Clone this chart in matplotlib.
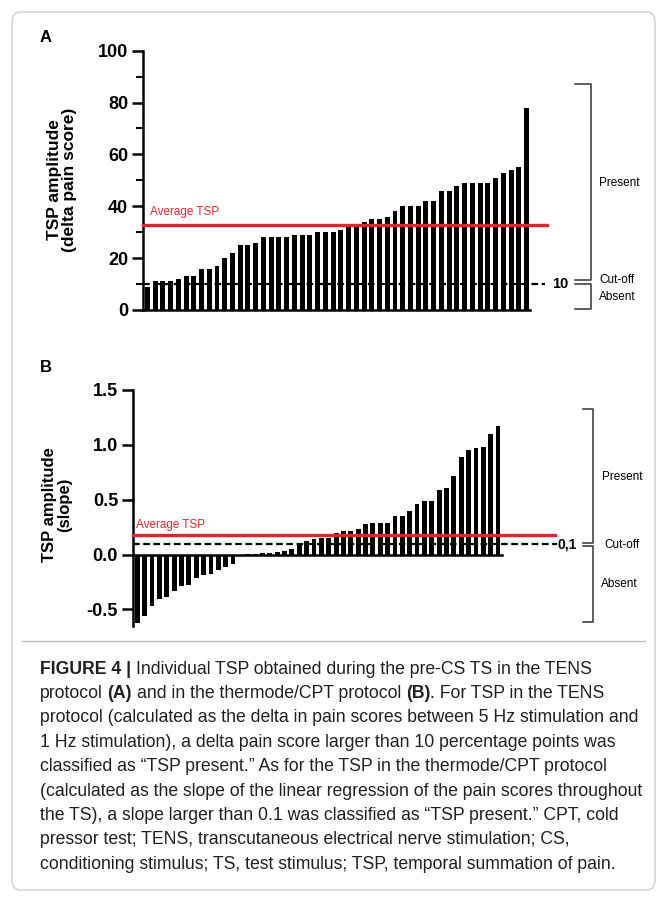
import numpy as np
import matplotlib
matplotlib.use('Agg')
import matplotlib.pyplot as plt
from matplotlib.transforms import blended_transform_factory
from matplotlib.patches import FancyBboxPatch
from matplotlib.lines import Line2D

plt.rcParams['font.family'] = ['Liberation Sans', 'DejaVu Sans']

# panel A: TENS protocol, delta pain score per participant (sorted)
tsp_a = [9, 11, 11, 11, 12, 13, 13, 16, 16, 17,
         20, 22, 25, 25, 26, 28, 28, 28, 28, 29,
         29, 29, 30, 30, 30, 31, 32, 32, 34, 35,
         35, 36, 38, 40, 40, 40, 42, 42, 46, 46,
         48, 49, 49, 49, 49, 51, 53, 54, 55, 78]
cutoff_a = 10
yticks_a = [0, 20, 40, 60, 80, 100]

# panel B: thermode/CPT protocol, slope per participant (sorted)
tsp_b = [-0.62, -0.56, -0.47, -0.41, -0.39, -0.33, -0.29, -0.28, -0.21, -0.19,
         -0.175, -0.14, -0.11, -0.09, 0.0, 0.003, 0.005, 0.01, 0.015, 0.02,
         0.03, 0.05, 0.09, 0.12, 0.14, 0.15, 0.15, 0.20, 0.21, 0.21,
         0.23, 0.28, 0.285, 0.29, 0.29, 0.35, 0.35, 0.40, 0.46, 0.49,
         0.49, 0.59, 0.61, 0.72, 0.89, 0.95, 0.97, 0.98, 1.10, 1.17]
cutoff_b = 0.1
yticks_b = [-0.5, 0.0, 0.5, 1.0, 1.5]

W, H = 667, 901
fig = plt.figure(figsize=(W / 100, H / 100), dpi=100)
RED = '#e3242b'


def fx(px):
    return px / W


def fy(py):
    return 1 - py / H


def style_axis(ax):
    for s in ['top', 'right']:
        ax.spines[s].set_visible(False)
    ax.spines['left'].set_linewidth(1.8)
    ax.spines['bottom'].set_linewidth(1.8)
    ax.tick_params(axis='y', width=1.8, length=8, pad=3, labelsize=13)
    ax.tick_params(axis='y', which='minor', width=1.5, length=5)
    ax.tick_params(axis='x', length=0, labelbottom=False)
    for lab in ax.get_yticklabels():
        lab.set_fontweight('bold')


def bracket(ax, x_eq, x_v, top, eq_hi, eq_lo, bottom):
    tr = blended_transform_factory(fig.transFigure, ax.transData)
    kw = dict(transform=tr, color='#333333', lw=1.1, clip_on=False)
    ax.add_line(Line2D([x_eq, x_v, x_v, x_eq], [top, top, eq_hi, eq_hi], **kw))
    ax.add_line(Line2D([x_eq, x_v, x_v, x_eq], [eq_lo, eq_lo, bottom, bottom], **kw))


# ---- panel A
axA = fig.add_axes([fx(143.3), fy(310), fx(530 - 143.3), (310 - 50.7) / H])
xa = np.arange(1, len(tsp_a) + 1)
axA.bar(xa, tsp_a, width=0.64, color='black')
axA.set_xlim(0.48, 50.44)
axA.set_ylim(0, 100)
axA.set_yticks(yticks_a)
axA.set_yticks([10, 30, 50, 70, 90], minor=True)
style_axis(axA)
trA = blended_transform_factory(fig.transFigure, axA.transData)
mean_a = np.mean(tsp_a)
axA.add_line(Line2D([fx(143.3), fx(547)], [mean_a, mean_a], transform=trA,
                    color=RED, lw=2.4, clip_on=False, zorder=4))
axA.add_line(Line2D([fx(143.3), fx(545)], [cutoff_a, cutoff_a], transform=trA,
                    color='black', lw=1.6, ls=(0, (3, 1.6)), clip_on=False, zorder=4))
axA.text(1.3, mean_a + 2.8, 'Average TSP', color=RED, fontsize=8.5, va='bottom')
axA.text(fx(560), cutoff_a, '10', transform=trA, fontsize=10.5, fontweight='bold',
         ha='center', va='center')
bracket(axA, fx(575), fx(590.7), 87.3, 11.5, 10.0, 0.4)
axA.text(fx(599), 49, 'Present', transform=trA, fontsize=8.5, va='center')
axA.text(fx(599), 11.6, 'Cut-off', transform=trA, fontsize=8.5, va='center')
axA.text(fx(599), 5.0, 'Absent', transform=trA, fontsize=8.5, va='center')
fig.text(fx(62), fy(180), 'TSP amplitude\n(delta pain score)', rotation=90,
         ha='center', va='center', ma='center', fontsize=12.5, fontweight='bold',
         linespacing=1.05)
fig.text(fx(40), fy(37), 'A', fontsize=12, fontweight='bold', va='center')

# ---- panel B
axB = fig.add_axes([fx(133.3), fy(625.8), fx(501.7 - 133.3), (625.8 - 390) / H])
xb = np.arange(1, len(tsp_b) + 1)
axB.bar(xb, tsp_b, width=0.66, color='black')
axB.set_xlim(0.45, 50.5)
axB.set_ylim(-0.65, 1.5)
axB.set_yticks(yticks_b)
axB.set_yticklabels(['%.1f' % v for v in yticks_b])
axB.spines['bottom'].set_position(('data', 0))
style_axis(axB)
trB = blended_transform_factory(fig.transFigure, axB.transData)
mean_b = np.mean(tsp_b)
axB.add_line(Line2D([fx(133.3), fx(555)], [mean_b, mean_b], transform=trB,
                    color=RED, lw=2.4, clip_on=False, zorder=4))
axB.add_line(Line2D([fx(133.3), fx(557)], [cutoff_b, cutoff_b], transform=trB,
                    color='black', lw=1.6, ls=(0, (3, 1.6)), clip_on=False, zorder=4))
axB.text(0.82, mean_b + 0.035, 'Average TSP', color=RED, fontsize=8.5, va='bottom')
axB.text(fx(567.5), cutoff_b - 0.01, '0,1', transform=trB, fontsize=10,
         fontweight='bold', ha='center', va='center')
bracket(axB, fx(583), fx(593.3), 1.327, 0.105, 0.08, -0.613)
axB.text(fx(601.7), 0.71, 'Present', transform=trB, fontsize=8.5, va='center')
axB.text(fx(604), 0.09, 'Cut-off', transform=trB, fontsize=8.5, va='center')
axB.text(fx(601), -0.27, 'Absent', transform=trB, fontsize=8.5, va='center')
fig.text(fx(57), fy(505), 'TSP amplitude\n(slope)', rotation=90,
         ha='center', va='center', ma='center', fontsize=12, fontweight='bold',
         linespacing=1.05)
fig.text(fx(40), fy(368), 'B', fontsize=12, fontweight='bold', va='center')

# ---- frame and separator
fig.patches.append(FancyBboxPatch((fx(12), fy(890)), fx(643), (878) / H,
                                  boxstyle='round,pad=0,rounding_size=0.012',
                                  transform=fig.transFigure, fill=False,
                                  edgecolor='#cfcfcf', lw=1.0))
fig.add_artist(Line2D([fx(22), fx(645)], [fy(641), fy(641)],
                      transform=fig.transFigure, color='#bdbdbd', lw=1.0))

# ---- caption
caption = [
    [('FIGURE 4 |', 'bold'), ('Individual TSP obtained during the pre-CS TS in the TENS', 'normal')],
    [('protocol', 'normal'), ('(A)', 'bold'), ('and in the thermode/CPT protocol', 'normal'),
     ('(B)', 'bold'), ('\x08. For TSP in the TENS', 'normal')],
    [('protocol (calculated as the delta in pain scores between 5 Hz stimulation and', 'normal')],
    [('1 Hz stimulation), a delta pain score larger than 10 percentage points was', 'normal')],
    [('classified as \u201cTSP present.\u201d As for the TSP in the thermode/CPT protocol', 'normal')],
    [('(calculated as the slope of the linear regression of the pain scores throughout', 'normal')],
    [('the TS), a slope larger than 0.1 was classified as \u201cTSP present.\u201d CPT, cold', 'normal')],
    [('pressor test; TENS, transcutaneous electrical nerve stimulation; CS,', 'normal')],
    [('conditioning stimulus; TS, test stimulus; TSP, temporal summation of pain.', 'normal')],
]

cap_size = 12.7
cap_font = ['Liberation Sans', 'DejaVu Sans']
cap_color = '#231f20'
renderer = fig.canvas.get_renderer()


def text_width(s, weight):
    t = fig.text(0, 0, s, fontsize=cap_size, fontweight=weight, family=cap_font)
    w = t.get_window_extent(renderer).width
    t.remove()
    return w


space_w = text_width('a a', 'normal') - text_width('aa', 'normal')

for i, parts in enumerate(caption):
    x = 40.0
    y = 669 + i * 24.4
    for j, (s, wt) in enumerate(parts):
        no_space = s.startswith('\x08')
        s = s.lstrip('\x08')
        if j > 0 and not no_space:
            x += space_w
        t = fig.text(fx(x), fy(y), s, fontsize=cap_size, fontweight=wt,
                     family=cap_font, color=cap_color, va='center')
        x += t.get_window_extent(renderer).width

fig.savefig('out.png', dpi=100)
